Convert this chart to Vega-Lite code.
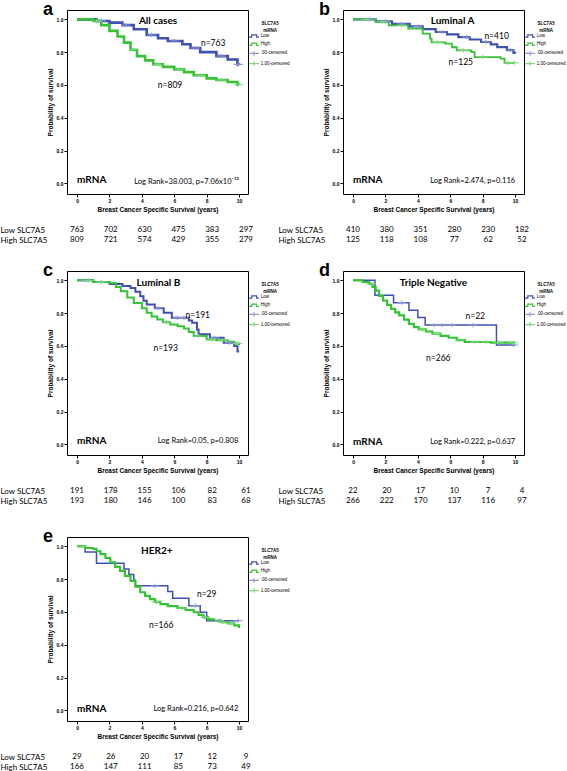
{
"$schema":"https://vega.github.io/schema/vega-lite/v6.json",
"padding":{"left":0,"top":0,"right":0,"bottom":0},
"autosize":{"type":"pad"},
"background":"white",
"config":{
 "view":{"stroke":"#000","strokeWidth":1},
 "axis":{"grid":false,"domain":false,"labelOverlap":false,"labelFlush":false,"tickColor":"#000","tickSize":3,"labelFont":"Liberation Sans","labelFontWeight":"bold","labelFontSize":5,"labelColor":"#000","labelPadding":1,"titleFont":"Liberation Sans","titleFontWeight":"bold","titleFontSize":6.5,"titleColor":"#000"},
 "axisX":{"titlePadding":3},
 "axisY":{"titlePadding":3},
 "legend":{"orient":"none","titleFont":"Liberation Sans","titleFontSize":4.5,"titleFontWeight":"bold","titleAnchor":"middle","titleAlign":"center","titlePadding":1,"labelFont":"Liberation Sans","labelFontSize":4.5,"labelColor":"#000","symbolSize":20,"symbolStrokeWidth":1.2,"rowPadding":0.2,"labelOffset":3.7,"padding":0},
 "title":{"anchor":"start","frame":"group","font":"Liberation Sans","fontSize":18,"fontWeight":"bold","dx":-24,"dy":13,"offset":0,"baseline":"alphabetic","color":"#000"},
 "text":{"font":"Lato","color":"#000"}
},
"datasets":{
"km":[
{"p":"a","g":"Low","t":0,"s":1},{"p":"a","g":"Low","t":0.5,"s":1},{"p":"a","g":"Low","t":1.2,"s":0.99},{"p":"a","g":"Low","t":2,"s":0.98},{"p":"a","g":"Low","t":2.8,"s":0.965},{"p":"a","g":"Low","t":3.5,"s":0.94},{"p":"a","g":"Low","t":4.3,"s":0.905},{"p":"a","g":"Low","t":5,"s":0.885},{"p":"a","g":"Low","t":5.6,"s":0.868},{"p":"a","g":"Low","t":6.5,"s":0.848},{"p":"a","g":"Low","t":7,"s":0.825},{"p":"a","g":"Low","t":7.6,"s":0.8},{"p":"a","g":"Low","t":8.6,"s":0.776},{"p":"a","g":"Low","t":9.3,"s":0.755},{"p":"a","g":"Low","t":9.9,"s":0.725},{"p":"a","g":"Low","t":10,"s":0.72},
{"p":"a","g":"High","t":0,"s":1},{"p":"a","g":"High","t":0.6,"s":1},{"p":"a","g":"High","t":1,"s":0.99},{"p":"a","g":"High","t":1.5,"s":0.965},{"p":"a","g":"High","t":2,"s":0.93},{"p":"a","g":"High","t":2.5,"s":0.895},{"p":"a","g":"High","t":2.9,"s":0.858},{"p":"a","g":"High","t":3.3,"s":0.815},{"p":"a","g":"High","t":3.7,"s":0.776},{"p":"a","g":"High","t":4.2,"s":0.75},{"p":"a","g":"High","t":4.7,"s":0.726},{"p":"a","g":"High","t":5.3,"s":0.71},{"p":"a","g":"High","t":6,"s":0.695},{"p":"a","g":"High","t":6.6,"s":0.678},{"p":"a","g":"High","t":7.2,"s":0.659},{"p":"a","g":"High","t":8,"s":0.64},{"p":"a","g":"High","t":8.6,"s":0.63},{"p":"a","g":"High","t":9.3,"s":0.618},{"p":"a","g":"High","t":9.9,"s":0.602},{"p":"a","g":"High","t":10,"s":0.6},
{"p":"b","g":"Low","t":0,"s":1},{"p":"b","g":"Low","t":1.4,"s":0.988},{"p":"b","g":"Low","t":2.4,"s":0.972},{"p":"b","g":"Low","t":3.5,"s":0.957},{"p":"b","g":"Low","t":4.3,"s":0.94},{"p":"b","g":"Low","t":5.1,"s":0.923},{"p":"b","g":"Low","t":5.8,"s":0.908},{"p":"b","g":"Low","t":6.5,"s":0.892},{"p":"b","g":"Low","t":7.2,"s":0.877},{"p":"b","g":"Low","t":7.9,"s":0.862},{"p":"b","g":"Low","t":8.5,"s":0.848},{"p":"b","g":"Low","t":8.9,"s":0.831},{"p":"b","g":"Low","t":9.5,"s":0.812},{"p":"b","g":"Low","t":9.9,"s":0.795},{"p":"b","g":"Low","t":10,"s":0.792},
{"p":"b","g":"High","t":0,"s":1},{"p":"b","g":"High","t":1.4,"s":0.985},{"p":"b","g":"High","t":2.2,"s":0.963},{"p":"b","g":"High","t":3.4,"s":0.943},{"p":"b","g":"High","t":4.3,"s":0.913},{"p":"b","g":"High","t":4.75,"s":0.882},{"p":"b","g":"High","t":4.85,"s":0.86},{"p":"b","g":"High","t":5.7,"s":0.852},{"p":"b","g":"High","t":6.1,"s":0.83},{"p":"b","g":"High","t":6.4,"s":0.811},{"p":"b","g":"High","t":7.3,"s":0.8},{"p":"b","g":"High","t":7.5,"s":0.77},{"p":"b","g":"High","t":9.1,"s":0.76},{"p":"b","g":"High","t":9.35,"s":0.735},{"p":"b","g":"High","t":10,"s":0.735},
{"p":"c","g":"Low","t":0,"s":1},{"p":"c","g":"Low","t":1,"s":0.99},{"p":"c","g":"Low","t":2,"s":0.978},{"p":"c","g":"Low","t":2.8,"s":0.965},{"p":"c","g":"Low","t":3.3,"s":0.954},{"p":"c","g":"Low","t":3.6,"s":0.93},{"p":"c","g":"Low","t":3.9,"s":0.903},{"p":"c","g":"Low","t":4.1,"s":0.875},{"p":"c","g":"Low","t":4.3,"s":0.853},{"p":"c","g":"Low","t":4.8,"s":0.83},{"p":"c","g":"Low","t":5.35,"s":0.802},{"p":"c","g":"Low","t":5.85,"s":0.772},{"p":"c","g":"Low","t":6.9,"s":0.755},{"p":"c","g":"Low","t":7.1,"s":0.741},{"p":"c","g":"Low","t":7.4,"s":0.7},{"p":"c","g":"Low","t":7.5,"s":0.671},{"p":"c","g":"Low","t":8.2,"s":0.65},{"p":"c","g":"Low","t":9.05,"s":0.62},{"p":"c","g":"Low","t":9.7,"s":0.6},{"p":"c","g":"Low","t":9.9,"s":0.566},{"p":"c","g":"Low","t":10,"s":0.566},
{"p":"c","g":"High","t":0,"s":1},{"p":"c","g":"High","t":1,"s":0.99},{"p":"c","g":"High","t":2,"s":0.984},{"p":"c","g":"High","t":2.4,"s":0.96},{"p":"c","g":"High","t":2.7,"s":0.933},{"p":"c","g":"High","t":3.1,"s":0.895},{"p":"c","g":"High","t":3.5,"s":0.862},{"p":"c","g":"High","t":4,"s":0.83},{"p":"c","g":"High","t":4.3,"s":0.802},{"p":"c","g":"High","t":4.6,"s":0.78},{"p":"c","g":"High","t":4.95,"s":0.762},{"p":"c","g":"High","t":5.3,"s":0.745},{"p":"c","g":"High","t":5.75,"s":0.731},{"p":"c","g":"High","t":6.2,"s":0.72},{"p":"c","g":"High","t":6.6,"s":0.707},{"p":"c","g":"High","t":6.9,"s":0.685},{"p":"c","g":"High","t":7.2,"s":0.66},{"p":"c","g":"High","t":8,"s":0.64},{"p":"c","g":"High","t":8.6,"s":0.635},{"p":"c","g":"High","t":9.3,"s":0.626},{"p":"c","g":"High","t":9.7,"s":0.615},{"p":"c","g":"High","t":10,"s":0.605},
{"p":"d","g":"Low","t":0,"s":1},{"p":"d","g":"Low","t":1.35,"s":0.909},{"p":"d","g":"Low","t":2.5,"s":0.864},{"p":"d","g":"Low","t":3.45,"s":0.818},{"p":"d","g":"Low","t":4,"s":0.773},{"p":"d","g":"Low","t":4.45,"s":0.727},{"p":"d","g":"Low","t":8.85,"s":0.606},{"p":"d","g":"Low","t":10,"s":0.606},
{"p":"d","g":"High","t":0,"s":1},{"p":"d","g":"High","t":0.6,"s":0.99},{"p":"d","g":"High","t":1,"s":0.978},{"p":"d","g":"High","t":1.2,"s":0.96},{"p":"d","g":"High","t":1.4,"s":0.937},{"p":"d","g":"High","t":1.6,"s":0.905},{"p":"d","g":"High","t":1.85,"s":0.877},{"p":"d","g":"High","t":2.1,"s":0.85},{"p":"d","g":"High","t":2.35,"s":0.826},{"p":"d","g":"High","t":2.6,"s":0.805},{"p":"d","g":"High","t":2.85,"s":0.786},{"p":"d","g":"High","t":3.15,"s":0.76},{"p":"d","g":"High","t":3.45,"s":0.735},{"p":"d","g":"High","t":3.75,"s":0.715},{"p":"d","g":"High","t":4.05,"s":0.701},{"p":"d","g":"High","t":4.5,"s":0.688},{"p":"d","g":"High","t":4.9,"s":0.675},{"p":"d","g":"High","t":5.4,"s":0.662},{"p":"d","g":"High","t":5.9,"s":0.65},{"p":"d","g":"High","t":6.4,"s":0.636},{"p":"d","g":"High","t":6.9,"s":0.624},{"p":"d","g":"High","t":8.5,"s":0.62},{"p":"d","g":"High","t":10,"s":0.62},
{"p":"e","g":"Low","t":0,"s":1},{"p":"e","g":"Low","t":0.5,"s":0.966},{"p":"e","g":"Low","t":1.2,"s":0.897},{"p":"e","g":"Low","t":2.9,"s":0.862},{"p":"e","g":"Low","t":3.2,"s":0.828},{"p":"e","g":"Low","t":3.5,"s":0.793},{"p":"e","g":"Low","t":3.6,"s":0.759},{"p":"e","g":"Low","t":5.6,"s":0.724},{"p":"e","g":"Low","t":5.9,"s":0.683},{"p":"e","g":"Low","t":6.9,"s":0.638},{"p":"e","g":"Low","t":7.6,"s":0.598},{"p":"e","g":"Low","t":8,"s":0.547},{"p":"e","g":"Low","t":10,"s":0.547},
{"p":"e","g":"High","t":0,"s":1},{"p":"e","g":"High","t":0.5,"s":0.99},{"p":"e","g":"High","t":1,"s":0.984},{"p":"e","g":"High","t":1.2,"s":0.97},{"p":"e","g":"High","t":1.45,"s":0.953},{"p":"e","g":"High","t":1.75,"s":0.93},{"p":"e","g":"High","t":2.05,"s":0.902},{"p":"e","g":"High","t":2.35,"s":0.875},{"p":"e","g":"High","t":2.65,"s":0.85},{"p":"e","g":"High","t":2.95,"s":0.82},{"p":"e","g":"High","t":3.3,"s":0.79},{"p":"e","g":"High","t":3.6,"s":0.755},{"p":"e","g":"High","t":3.9,"s":0.72},{"p":"e","g":"High","t":4.2,"s":0.698},{"p":"e","g":"High","t":4.5,"s":0.678},{"p":"e","g":"High","t":4.8,"s":0.662},{"p":"e","g":"High","t":5.15,"s":0.648},{"p":"e","g":"High","t":5.6,"s":0.636},{"p":"e","g":"High","t":6.2,"s":0.624},{"p":"e","g":"High","t":6.7,"s":0.612},{"p":"e","g":"High","t":7.2,"s":0.598},{"p":"e","g":"High","t":7.5,"s":0.582},{"p":"e","g":"High","t":7.8,"s":0.567},{"p":"e","g":"High","t":8.1,"s":0.555},{"p":"e","g":"High","t":8.45,"s":0.547},{"p":"e","g":"High","t":8.9,"s":0.538},{"p":"e","g":"High","t":9.3,"s":0.53},{"p":"e","g":"High","t":9.7,"s":0.518},{"p":"e","g":"High","t":10,"s":0.502}
],
"cens":[
{"p":"a","g":".00-censored","t":1.5,"s":0.99},{"p":"a","g":".00-censored","t":3,"s":0.965},{"p":"a","g":".00-censored","t":4.6,"s":0.905},{"p":"a","g":".00-censored","t":6,"s":0.868},{"p":"a","g":".00-censored","t":7.3,"s":0.825},{"p":"a","g":".00-censored","t":8.9,"s":0.776},{"p":"a","g":".00-censored","t":9.95,"s":0.725},
{"p":"a","g":"1.00-censored","t":1.2,"s":0.99},{"p":"a","g":"1.00-censored","t":3.5,"s":0.815},{"p":"a","g":"1.00-censored","t":5,"s":0.726},{"p":"a","g":"1.00-censored","t":6.3,"s":0.695},{"p":"a","g":"1.00-censored","t":7.6,"s":0.659},{"p":"a","g":"1.00-censored","t":8.9,"s":0.63},{"p":"a","g":"1.00-censored","t":9.95,"s":0.602},
{"p":"b","g":".00-censored","t":1,"s":1},{"p":"b","g":".00-censored","t":2,"s":0.988},{"p":"b","g":".00-censored","t":3,"s":0.972},{"p":"b","g":".00-censored","t":4,"s":0.957},{"p":"b","g":".00-censored","t":5.5,"s":0.923},{"p":"b","g":".00-censored","t":7,"s":0.892},{"p":"b","g":".00-censored","t":8.2,"s":0.862},{"p":"b","g":".00-censored","t":9.7,"s":0.812},
{"p":"b","g":"1.00-censored","t":0.8,"s":1},{"p":"b","g":"1.00-censored","t":1.8,"s":0.985},{"p":"b","g":"1.00-censored","t":3,"s":0.963},{"p":"b","g":"1.00-censored","t":5.2,"s":0.86},{"p":"b","g":"1.00-censored","t":6.8,"s":0.811},{"p":"b","g":"1.00-censored","t":8,"s":0.77},{"p":"b","g":"1.00-censored","t":9.6,"s":0.735},{"p":"b","g":"1.00-censored","t":9.95,"s":0.735},
{"p":"c","g":".00-censored","t":0.5,"s":1},{"p":"c","g":".00-censored","t":1.5,"s":0.99},{"p":"c","g":".00-censored","t":5,"s":0.83},{"p":"c","g":".00-censored","t":6.2,"s":0.772},{"p":"c","g":".00-censored","t":6.6,"s":0.772},{"p":"c","g":".00-censored","t":8.5,"s":0.65},{"p":"c","g":".00-censored","t":9.4,"s":0.62},
{"p":"c","g":"1.00-censored","t":0.7,"s":1},{"p":"c","g":"1.00-censored","t":1.5,"s":0.99},{"p":"c","g":"1.00-censored","t":5.5,"s":0.745},{"p":"c","g":"1.00-censored","t":7.5,"s":0.66},{"p":"c","g":"1.00-censored","t":8.3,"s":0.64},{"p":"c","g":"1.00-censored","t":9,"s":0.635},{"p":"c","g":"1.00-censored","t":9.9,"s":0.615},
{"p":"d","g":".00-censored","t":3,"s":0.864},{"p":"d","g":".00-censored","t":5,"s":0.727},{"p":"d","g":".00-censored","t":5.5,"s":0.727},{"p":"d","g":".00-censored","t":6.1,"s":0.727},{"p":"d","g":".00-censored","t":7.4,"s":0.727},{"p":"d","g":".00-censored","t":9.9,"s":0.606},
{"p":"d","g":"1.00-censored","t":1.1,"s":0.978},{"p":"d","g":"1.00-censored","t":4.3,"s":0.701},{"p":"d","g":"1.00-censored","t":5.2,"s":0.675},{"p":"d","g":"1.00-censored","t":6.6,"s":0.636},{"p":"d","g":"1.00-censored","t":7.5,"s":0.624},{"p":"d","g":"1.00-censored","t":8.2,"s":0.624},{"p":"d","g":"1.00-censored","t":9,"s":0.62},{"p":"d","g":"1.00-censored","t":9.9,"s":0.62},
{"p":"e","g":".00-censored","t":4.8,"s":0.759},{"p":"e","g":".00-censored","t":7.3,"s":0.638},{"p":"e","g":".00-censored","t":8.8,"s":0.547},{"p":"e","g":".00-censored","t":9.95,"s":0.547},
{"p":"e","g":"1.00-censored","t":0.3,"s":1},{"p":"e","g":"1.00-censored","t":4.9,"s":0.662},{"p":"e","g":"1.00-censored","t":6.5,"s":0.624},{"p":"e","g":"1.00-censored","t":7.9,"s":0.567},{"p":"e","g":"1.00-censored","t":9,"s":0.538},{"p":"e","g":"1.00-censored","t":9.5,"s":0.53}
],
"ann":[
{"p":"a","k":"title","t":5.0,"s":0.988,"label":"All cases"},{"p":"a","k":"n","t":8.4,"s":0.854,"label":"n=763"},{"p":"a","k":"n","t":5.74,"s":0.6,"label":"n=809"},{"p":"a","k":"mrna","t":0,"s":0.02,"label":"mRNA"},{"p":"a","k":"lr","t":10,"s":0.01,"label":"Log Rank=38.003, p=7.06x10⁻¹⁰"},
{"p":"b","k":"title","t":6.14,"s":0.988,"label":"Luminal A"},{"p":"b","k":"n","t":8.86,"s":0.896,"label":"n=410"},{"p":"b","k":"n","t":6.65,"s":0.74,"label":"n=125"},{"p":"b","k":"mrna","t":0,"s":0.02,"label":"mRNA"},{"p":"b","k":"lr","t":10,"s":0.016,"label":"Log Rank=2.474, p=0.116"},
{"p":"c","k":"title","t":5.02,"s":0.986,"label":"Luminal B"},{"p":"c","k":"n","t":7.45,"s":0.79,"label":"n=191"},{"p":"c","k":"n","t":5.47,"s":0.59,"label":"n=193"},{"p":"c","k":"mrna","t":0,"s":0.02,"label":"mRNA"},{"p":"c","k":"lr","t":9.95,"s":0.02,"label":"Log Rank=0.05, p=0.808"},
{"p":"d","k":"title","t":4.96,"s":0.982,"label":"Triple Negative"},{"p":"d","k":"n","t":7.54,"s":0.784,"label":"n=22"},{"p":"d","k":"n","t":5.26,"s":0.527,"label":"n=266"},{"p":"d","k":"mrna","t":0,"s":0.015,"label":"mRNA"},{"p":"d","k":"lr","t":10,"s":0.015,"label":"Log Rank=0.222, p=0.637"},
{"p":"e","k":"title","t":4.92,"s":0.974,"label":"HER2+"},{"p":"e","k":"n","t":8.0,"s":0.707,"label":"n=29"},{"p":"e","k":"n","t":5.19,"s":0.52,"label":"n=166"},{"p":"e","k":"mrna","t":0,"s":0.008,"label":"mRNA"},{"p":"e","k":"lr","t":9.95,"s":0.008,"label":"Log Rank=0.216, p=0.642"}
],
"risk":[
{"p":"a","row":"Low SLC7A5","t":0,"n":763},{"p":"a","row":"Low SLC7A5","t":2,"n":702},{"p":"a","row":"Low SLC7A5","t":4,"n":630},{"p":"a","row":"Low SLC7A5","t":6,"n":475},{"p":"a","row":"Low SLC7A5","t":8,"n":383},{"p":"a","row":"Low SLC7A5","t":10,"n":297},
{"p":"a","row":"High SLC7A5","t":0,"n":809},{"p":"a","row":"High SLC7A5","t":2,"n":721},{"p":"a","row":"High SLC7A5","t":4,"n":574},{"p":"a","row":"High SLC7A5","t":6,"n":429},{"p":"a","row":"High SLC7A5","t":8,"n":355},{"p":"a","row":"High SLC7A5","t":10,"n":279},
{"p":"b","row":"Low SLC7A5","t":0,"n":410},{"p":"b","row":"Low SLC7A5","t":2,"n":380},{"p":"b","row":"Low SLC7A5","t":4,"n":351},{"p":"b","row":"Low SLC7A5","t":6,"n":280},{"p":"b","row":"Low SLC7A5","t":8,"n":230},{"p":"b","row":"Low SLC7A5","t":10,"n":182},
{"p":"b","row":"High SLC7A5","t":0,"n":125},{"p":"b","row":"High SLC7A5","t":2,"n":118},{"p":"b","row":"High SLC7A5","t":4,"n":108},{"p":"b","row":"High SLC7A5","t":6,"n":77},{"p":"b","row":"High SLC7A5","t":8,"n":62},{"p":"b","row":"High SLC7A5","t":10,"n":52},
{"p":"c","row":"Low SLC7A5","t":0,"n":191},{"p":"c","row":"Low SLC7A5","t":2,"n":178},{"p":"c","row":"Low SLC7A5","t":4,"n":155},{"p":"c","row":"Low SLC7A5","t":6,"n":106},{"p":"c","row":"Low SLC7A5","t":8,"n":82},{"p":"c","row":"Low SLC7A5","t":10,"n":61},
{"p":"c","row":"High SLC7A5","t":0,"n":193},{"p":"c","row":"High SLC7A5","t":2,"n":180},{"p":"c","row":"High SLC7A5","t":4,"n":146},{"p":"c","row":"High SLC7A5","t":6,"n":100},{"p":"c","row":"High SLC7A5","t":8,"n":83},{"p":"c","row":"High SLC7A5","t":10,"n":68},
{"p":"d","row":"Low SLC7A5","t":0,"n":22},{"p":"d","row":"Low SLC7A5","t":2,"n":20},{"p":"d","row":"Low SLC7A5","t":4,"n":17},{"p":"d","row":"Low SLC7A5","t":6,"n":10},{"p":"d","row":"Low SLC7A5","t":8,"n":7},{"p":"d","row":"Low SLC7A5","t":10,"n":4},
{"p":"d","row":"High SLC7A5","t":0,"n":266},{"p":"d","row":"High SLC7A5","t":2,"n":222},{"p":"d","row":"High SLC7A5","t":4,"n":170},{"p":"d","row":"High SLC7A5","t":6,"n":137},{"p":"d","row":"High SLC7A5","t":8,"n":116},{"p":"d","row":"High SLC7A5","t":10,"n":97},
{"p":"e","row":"Low SLC7A5","t":0,"n":29},{"p":"e","row":"Low SLC7A5","t":2,"n":26},{"p":"e","row":"Low SLC7A5","t":4,"n":20},{"p":"e","row":"Low SLC7A5","t":6,"n":17},{"p":"e","row":"Low SLC7A5","t":8,"n":12},{"p":"e","row":"Low SLC7A5","t":10,"n":9},
{"p":"e","row":"High SLC7A5","t":0,"n":166},{"p":"e","row":"High SLC7A5","t":2,"n":147},{"p":"e","row":"High SLC7A5","t":4,"n":111},{"p":"e","row":"High SLC7A5","t":6,"n":85},{"p":"e","row":"High SLC7A5","t":8,"n":73},{"p":"e","row":"High SLC7A5","t":10,"n":49}
]
},
"columns":2,
"spacing":{"row":12,"column":-13},
"align":"each",
"resolve":{"scale":{"color":"independent","shape":"independent","strokeWidth":"independent"},"legend":{"color":"independent","shape":"independent","strokeWidth":"independent"}},
"concat":[
{"width":181,"height":184,"title":{"text":"a"},"layer":[
 {"data":{"name":"km"},"transform":[{"filter":"datum.p=='a'"}],"mark":{"type":"line","interpolate":"step-after"},
  "encoding":{"x":{"field":"t","type":"quantitative","scale":{"domain":[-0.62,10.55],"nice":false,"zero":false},"axis":{"values":[0,2,4,6,8,10],"tickCount":12,"labelOverlap":false,"title":"Breast Cancer Specific Survival (years)"}},
   "y":{"field":"s","type":"quantitative","scale":{"domain":[-0.065,1.057],"nice":false,"zero":false},"axis":{"values":[0,0.2,0.4,0.6,0.8,1],"tickCount":12,"labelOverlap":false,"format":".1f","title":"Probability of survival"}},
   "color":{"field":"g","type":"nominal","scale":{"domain":["Low","High",".00-censored","1.00-censored"],"range":["#3F50B0","#35C235","#8D99D4","#7DD87D"]},"legend":{"title":["SLC7A5","mRNA"],"legendX":184,"legendY":11}},
   "strokeWidth":{"field":"g","type":"nominal","scale":{"domain":["Low","High"],"range":[2.6,2.6]},"legend":null}}},
 {"data":{"name":"cens"},"transform":[{"filter":"datum.p=='a'"}],"mark":{"type":"point","size":18,"strokeWidth":1,"filled":false,"opacity":1},
  "encoding":{"x":{"field":"t","type":"quantitative"},"y":{"field":"s","type":"quantitative"},
   "color":{"field":"g","type":"nominal","scale":{"domain":["Low","High",".00-censored","1.00-censored"],"range":["#3F50B0","#35C235","#8D99D4","#7DD87D"]},"legend":{"title":["SLC7A5","mRNA"],"legendX":184,"legendY":11}},
   "shape":{"field":"g","type":"nominal","scale":{"domain":["Low","High",".00-censored","1.00-censored"],"range":["M-2.2,0.5H-1V-0.5H1.2V0.5H2.2","M-2.2,0.5H-1V-0.5H1.2V0.5H2.2","M-2.2,0H2.2M0,-1V1","M-2.2,0H2.2M0,-1V1"]},"legend":{"title":["SLC7A5","mRNA"],"legendX":184,"legendY":11}}}},
 {"data":{"name":"ann"},"transform":[{"filter":"datum.p=='a' && datum.k=='title'"}],"mark":{"type":"text","fontSize":10,"fontWeight":"bold","align":"center","baseline":"middle"},"encoding":{"x":{"field":"t","type":"quantitative"},"y":{"field":"s","type":"quantitative"},"text":{"field":"label"}}},
 {"data":{"name":"ann"},"transform":[{"filter":"datum.p=='a' && datum.k=='n'"}],"mark":{"type":"text","fontSize":8.5,"align":"center","baseline":"middle"},"encoding":{"x":{"field":"t","type":"quantitative"},"y":{"field":"s","type":"quantitative"},"text":{"field":"label"}}},
 {"data":{"name":"ann"},"transform":[{"filter":"datum.p=='a' && datum.k=='mrna'"}],"mark":{"type":"text","fontSize":10,"fontWeight":"bold","align":"left","baseline":"middle"},"encoding":{"x":{"field":"t","type":"quantitative"},"y":{"field":"s","type":"quantitative"},"text":{"field":"label"}}},
 {"data":{"name":"ann"},"transform":[{"filter":"datum.p=='a' && datum.k=='lr'"}],"mark":{"type":"text","fontSize":7.5,"align":"right","baseline":"middle"},"encoding":{"x":{"field":"t","type":"quantitative"},"y":{"field":"s","type":"quantitative"},"text":{"field":"label"}}}
]},
{"width":181,"height":184,"title":{"text":"b"},"layer":[
 {"data":{"name":"km"},"transform":[{"filter":"datum.p=='b'"}],"mark":{"type":"line","interpolate":"step-after"},
  "encoding":{"x":{"field":"t","type":"quantitative","scale":{"domain":[-0.62,10.55],"nice":false,"zero":false},"axis":{"values":[0,2,4,6,8,10],"tickCount":12,"labelOverlap":false,"title":"Breast Cancer Specific Survival (years)"}},
   "y":{"field":"s","type":"quantitative","scale":{"domain":[-0.065,1.057],"nice":false,"zero":false},"axis":{"values":[0,0.2,0.4,0.6,0.8,1],"tickCount":12,"labelOverlap":false,"format":".1f","title":"Probability of survival"}},
   "color":{"field":"g","type":"nominal","scale":{"domain":["Low","High",".00-censored","1.00-censored"],"range":["#3F50B0","#35C235","#8D99D4","#7DD87D"]},"legend":{"title":["SLC7A5","mRNA"],"legendX":184,"legendY":11}},
   "strokeWidth":{"field":"g","type":"nominal","scale":{"domain":["Low","High"],"range":[2.2,1.8]},"legend":null}}},
 {"data":{"name":"cens"},"transform":[{"filter":"datum.p=='b'"}],"mark":{"type":"point","size":18,"strokeWidth":1,"filled":false,"opacity":1},
  "encoding":{"x":{"field":"t","type":"quantitative"},"y":{"field":"s","type":"quantitative"},
   "color":{"field":"g","type":"nominal","scale":{"domain":["Low","High",".00-censored","1.00-censored"],"range":["#3F50B0","#35C235","#8D99D4","#7DD87D"]},"legend":{"title":["SLC7A5","mRNA"],"legendX":184,"legendY":11}},
   "shape":{"field":"g","type":"nominal","scale":{"domain":["Low","High",".00-censored","1.00-censored"],"range":["M-2.2,0.5H-1V-0.5H1.2V0.5H2.2","M-2.2,0.5H-1V-0.5H1.2V0.5H2.2","M-2.2,0H2.2M0,-1V1","M-2.2,0H2.2M0,-1V1"]},"legend":{"title":["SLC7A5","mRNA"],"legendX":184,"legendY":11}}}},
 {"data":{"name":"ann"},"transform":[{"filter":"datum.p=='b' && datum.k=='title'"}],"mark":{"type":"text","fontSize":10,"fontWeight":"bold","align":"center","baseline":"middle"},"encoding":{"x":{"field":"t","type":"quantitative"},"y":{"field":"s","type":"quantitative"},"text":{"field":"label"}}},
 {"data":{"name":"ann"},"transform":[{"filter":"datum.p=='b' && datum.k=='n'"}],"mark":{"type":"text","fontSize":8.5,"align":"center","baseline":"middle"},"encoding":{"x":{"field":"t","type":"quantitative"},"y":{"field":"s","type":"quantitative"},"text":{"field":"label"}}},
 {"data":{"name":"ann"},"transform":[{"filter":"datum.p=='b' && datum.k=='mrna'"}],"mark":{"type":"text","fontSize":10,"fontWeight":"bold","align":"left","baseline":"middle"},"encoding":{"x":{"field":"t","type":"quantitative"},"y":{"field":"s","type":"quantitative"},"text":{"field":"label"}}},
 {"data":{"name":"ann"},"transform":[{"filter":"datum.p=='b' && datum.k=='lr'"}],"mark":{"type":"text","fontSize":7.5,"align":"right","baseline":"middle"},"encoding":{"x":{"field":"t","type":"quantitative"},"y":{"field":"s","type":"quantitative"},"text":{"field":"label"}}}
]},
{"width":181,"height":24,"view":{"stroke":null},"data":{"name":"risk"},"transform":[{"filter":"datum.p=='a'"}],"mark":{"type":"text","fontSize":8},
 "encoding":{"x":{"field":"t","type":"quantitative","scale":{"domain":[-0.59,10.12],"nice":false,"zero":false},"axis":null},
  "y":{"field":"row","type":"nominal","sort":["Low SLC7A5","High SLC7A5"],"scale":{"type":"point","padding":0,"range":[5,15]},"axis":{"title":null,"domain":false,"ticks":false,"tickSize":0,"labelAlign":"left","labelPadding":67,"labelFont":"Lato","labelFontWeight":"normal","labelFontSize":8}},
  "text":{"field":"n","type":"quantitative"}}},
{"width":181,"height":24,"view":{"stroke":null},"data":{"name":"risk"},"transform":[{"filter":"datum.p=='b'"}],"mark":{"type":"text","fontSize":8},
 "encoding":{"x":{"field":"t","type":"quantitative","scale":{"domain":[-0.59,10.12],"nice":false,"zero":false},"axis":null},
  "y":{"field":"row","type":"nominal","sort":["Low SLC7A5","High SLC7A5"],"scale":{"type":"point","padding":0,"range":[5,15]},"axis":{"title":null,"domain":false,"ticks":false,"tickSize":0,"labelAlign":"left","labelPadding":65,"labelFont":"Lato","labelFontWeight":"normal","labelFontSize":8}},
  "text":{"field":"n","type":"quantitative"}}},
{"width":181,"height":184,"title":{"text":"c"},"layer":[
 {"data":{"name":"km"},"transform":[{"filter":"datum.p=='c'"}],"mark":{"type":"line","interpolate":"step-after"},
  "encoding":{"x":{"field":"t","type":"quantitative","scale":{"domain":[-0.62,10.55],"nice":false,"zero":false},"axis":{"values":[0,2,4,6,8,10],"tickCount":12,"labelOverlap":false,"title":"Breast Cancer Specific Survival (years)"}},
   "y":{"field":"s","type":"quantitative","scale":{"domain":[-0.065,1.057],"nice":false,"zero":false},"axis":{"values":[0,0.2,0.4,0.6,0.8,1],"tickCount":12,"labelOverlap":false,"format":".1f","title":"Probability of survival"}},
   "color":{"field":"g","type":"nominal","scale":{"domain":["Low","High",".00-censored","1.00-censored"],"range":["#3F50B0","#35C235","#8D99D4","#7DD87D"]},"legend":{"title":["SLC7A5","mRNA"],"legendX":184,"legendY":11}},
   "strokeWidth":{"field":"g","type":"nominal","scale":{"domain":["Low","High"],"range":[2,2]},"legend":null}}},
 {"data":{"name":"cens"},"transform":[{"filter":"datum.p=='c'"}],"mark":{"type":"point","size":18,"strokeWidth":1,"filled":false,"opacity":1},
  "encoding":{"x":{"field":"t","type":"quantitative"},"y":{"field":"s","type":"quantitative"},
   "color":{"field":"g","type":"nominal","scale":{"domain":["Low","High",".00-censored","1.00-censored"],"range":["#3F50B0","#35C235","#8D99D4","#7DD87D"]},"legend":{"title":["SLC7A5","mRNA"],"legendX":184,"legendY":11}},
   "shape":{"field":"g","type":"nominal","scale":{"domain":["Low","High",".00-censored","1.00-censored"],"range":["M-2.2,0.5H-1V-0.5H1.2V0.5H2.2","M-2.2,0.5H-1V-0.5H1.2V0.5H2.2","M-2.2,0H2.2M0,-1V1","M-2.2,0H2.2M0,-1V1"]},"legend":{"title":["SLC7A5","mRNA"],"legendX":184,"legendY":11}}}},
 {"data":{"name":"ann"},"transform":[{"filter":"datum.p=='c' && datum.k=='title'"}],"mark":{"type":"text","fontSize":10,"fontWeight":"bold","align":"center","baseline":"middle"},"encoding":{"x":{"field":"t","type":"quantitative"},"y":{"field":"s","type":"quantitative"},"text":{"field":"label"}}},
 {"data":{"name":"ann"},"transform":[{"filter":"datum.p=='c' && datum.k=='n'"}],"mark":{"type":"text","fontSize":8.5,"align":"center","baseline":"middle"},"encoding":{"x":{"field":"t","type":"quantitative"},"y":{"field":"s","type":"quantitative"},"text":{"field":"label"}}},
 {"data":{"name":"ann"},"transform":[{"filter":"datum.p=='c' && datum.k=='mrna'"}],"mark":{"type":"text","fontSize":10,"fontWeight":"bold","align":"left","baseline":"middle"},"encoding":{"x":{"field":"t","type":"quantitative"},"y":{"field":"s","type":"quantitative"},"text":{"field":"label"}}},
 {"data":{"name":"ann"},"transform":[{"filter":"datum.p=='c' && datum.k=='lr'"}],"mark":{"type":"text","fontSize":7.5,"align":"right","baseline":"middle"},"encoding":{"x":{"field":"t","type":"quantitative"},"y":{"field":"s","type":"quantitative"},"text":{"field":"label"}}}
]},
{"width":181,"height":184,"title":{"text":"d"},"layer":[
 {"data":{"name":"km"},"transform":[{"filter":"datum.p=='d'"}],"mark":{"type":"line","interpolate":"step-after"},
  "encoding":{"x":{"field":"t","type":"quantitative","scale":{"domain":[-0.62,10.55],"nice":false,"zero":false},"axis":{"values":[0,2,4,6,8,10],"tickCount":12,"labelOverlap":false,"title":"Breast Cancer Specific Survival (years)"}},
   "y":{"field":"s","type":"quantitative","scale":{"domain":[-0.065,1.057],"nice":false,"zero":false},"axis":{"values":[0,0.2,0.4,0.6,0.8,1],"tickCount":12,"labelOverlap":false,"format":".1f","title":"Probability of survival"}},
   "color":{"field":"g","type":"nominal","scale":{"domain":["Low","High",".00-censored","1.00-censored"],"range":["#3F50B0","#35C235","#8D99D4","#7DD87D"]},"legend":{"title":["SLC7A5","mRNA"],"legendX":184,"legendY":11}},
   "strokeWidth":{"field":"g","type":"nominal","scale":{"domain":["Low","High"],"range":[1.5,2.2]},"legend":null}}},
 {"data":{"name":"cens"},"transform":[{"filter":"datum.p=='d'"}],"mark":{"type":"point","size":18,"strokeWidth":1,"filled":false,"opacity":1},
  "encoding":{"x":{"field":"t","type":"quantitative"},"y":{"field":"s","type":"quantitative"},
   "color":{"field":"g","type":"nominal","scale":{"domain":["Low","High",".00-censored","1.00-censored"],"range":["#3F50B0","#35C235","#8D99D4","#7DD87D"]},"legend":{"title":["SLC7A5","mRNA"],"legendX":184,"legendY":11}},
   "shape":{"field":"g","type":"nominal","scale":{"domain":["Low","High",".00-censored","1.00-censored"],"range":["M-2.2,0.5H-1V-0.5H1.2V0.5H2.2","M-2.2,0.5H-1V-0.5H1.2V0.5H2.2","M-2.2,0H2.2M0,-1V1","M-2.2,0H2.2M0,-1V1"]},"legend":{"title":["SLC7A5","mRNA"],"legendX":184,"legendY":11}}}},
 {"data":{"name":"ann"},"transform":[{"filter":"datum.p=='d' && datum.k=='title'"}],"mark":{"type":"text","fontSize":10,"fontWeight":"bold","align":"center","baseline":"middle"},"encoding":{"x":{"field":"t","type":"quantitative"},"y":{"field":"s","type":"quantitative"},"text":{"field":"label"}}},
 {"data":{"name":"ann"},"transform":[{"filter":"datum.p=='d' && datum.k=='n'"}],"mark":{"type":"text","fontSize":8.5,"align":"center","baseline":"middle"},"encoding":{"x":{"field":"t","type":"quantitative"},"y":{"field":"s","type":"quantitative"},"text":{"field":"label"}}},
 {"data":{"name":"ann"},"transform":[{"filter":"datum.p=='d' && datum.k=='mrna'"}],"mark":{"type":"text","fontSize":10,"fontWeight":"bold","align":"left","baseline":"middle"},"encoding":{"x":{"field":"t","type":"quantitative"},"y":{"field":"s","type":"quantitative"},"text":{"field":"label"}}},
 {"data":{"name":"ann"},"transform":[{"filter":"datum.p=='d' && datum.k=='lr'"}],"mark":{"type":"text","fontSize":7.5,"align":"right","baseline":"middle"},"encoding":{"x":{"field":"t","type":"quantitative"},"y":{"field":"s","type":"quantitative"},"text":{"field":"label"}}}
]},
{"width":181,"height":29,"view":{"stroke":null},"data":{"name":"risk"},"transform":[{"filter":"datum.p=='c'"}],"mark":{"type":"text","fontSize":8},
 "encoding":{"x":{"field":"t","type":"quantitative","scale":{"domain":[-0.59,10.12],"nice":false,"zero":false},"axis":null},
  "y":{"field":"row","type":"nominal","sort":["Low SLC7A5","High SLC7A5"],"scale":{"type":"point","padding":0,"range":[5,15]},"axis":{"title":null,"domain":false,"ticks":false,"tickSize":0,"labelAlign":"left","labelPadding":67,"labelFont":"Lato","labelFontWeight":"normal","labelFontSize":8}},
  "text":{"field":"n","type":"quantitative"}}},
{"width":181,"height":29,"view":{"stroke":null},"data":{"name":"risk"},"transform":[{"filter":"datum.p=='d'"}],"mark":{"type":"text","fontSize":8},
 "encoding":{"x":{"field":"t","type":"quantitative","scale":{"domain":[-0.59,10.12],"nice":false,"zero":false},"axis":null},
  "y":{"field":"row","type":"nominal","sort":["Low SLC7A5","High SLC7A5"],"scale":{"type":"point","padding":0,"range":[5,15]},"axis":{"title":null,"domain":false,"ticks":false,"tickSize":0,"labelAlign":"left","labelPadding":65,"labelFont":"Lato","labelFontWeight":"normal","labelFontSize":8}},
  "text":{"field":"n","type":"quantitative"}}},
{"width":181,"height":184,"title":{"text":"e"},"layer":[
 {"data":{"name":"km"},"transform":[{"filter":"datum.p=='e'"}],"mark":{"type":"line","interpolate":"step-after"},
  "encoding":{"x":{"field":"t","type":"quantitative","scale":{"domain":[-0.62,10.55],"nice":false,"zero":false},"axis":{"values":[0,2,4,6,8,10],"tickCount":12,"labelOverlap":false,"title":"Breast Cancer Specific Survival (years)"}},
   "y":{"field":"s","type":"quantitative","scale":{"domain":[-0.065,1.057],"nice":false,"zero":false},"axis":{"values":[0,0.2,0.4,0.6,0.8,1],"tickCount":12,"labelOverlap":false,"format":".1f","title":"Probability of survival"}},
   "color":{"field":"g","type":"nominal","scale":{"domain":["Low","High",".00-censored","1.00-censored"],"range":["#3F50B0","#35C235","#8D99D4","#7DD87D"]},"legend":{"title":["SLC7A5","mRNA"],"legendX":184,"legendY":11}},
   "strokeWidth":{"field":"g","type":"nominal","scale":{"domain":["Low","High"],"range":[1.5,2.2]},"legend":null}}},
 {"data":{"name":"cens"},"transform":[{"filter":"datum.p=='e'"}],"mark":{"type":"point","size":18,"strokeWidth":1,"filled":false,"opacity":1},
  "encoding":{"x":{"field":"t","type":"quantitative"},"y":{"field":"s","type":"quantitative"},
   "color":{"field":"g","type":"nominal","scale":{"domain":["Low","High",".00-censored","1.00-censored"],"range":["#3F50B0","#35C235","#8D99D4","#7DD87D"]},"legend":{"title":["SLC7A5","mRNA"],"legendX":184,"legendY":11}},
   "shape":{"field":"g","type":"nominal","scale":{"domain":["Low","High",".00-censored","1.00-censored"],"range":["M-2.2,0.5H-1V-0.5H1.2V0.5H2.2","M-2.2,0.5H-1V-0.5H1.2V0.5H2.2","M-2.2,0H2.2M0,-1V1","M-2.2,0H2.2M0,-1V1"]},"legend":{"title":["SLC7A5","mRNA"],"legendX":184,"legendY":11}}}},
 {"data":{"name":"ann"},"transform":[{"filter":"datum.p=='e' && datum.k=='title'"}],"mark":{"type":"text","fontSize":10,"fontWeight":"bold","align":"center","baseline":"middle"},"encoding":{"x":{"field":"t","type":"quantitative"},"y":{"field":"s","type":"quantitative"},"text":{"field":"label"}}},
 {"data":{"name":"ann"},"transform":[{"filter":"datum.p=='e' && datum.k=='n'"}],"mark":{"type":"text","fontSize":8.5,"align":"center","baseline":"middle"},"encoding":{"x":{"field":"t","type":"quantitative"},"y":{"field":"s","type":"quantitative"},"text":{"field":"label"}}},
 {"data":{"name":"ann"},"transform":[{"filter":"datum.p=='e' && datum.k=='mrna'"}],"mark":{"type":"text","fontSize":10,"fontWeight":"bold","align":"left","baseline":"middle"},"encoding":{"x":{"field":"t","type":"quantitative"},"y":{"field":"s","type":"quantitative"},"text":{"field":"label"}}},
 {"data":{"name":"ann"},"transform":[{"filter":"datum.p=='e' && datum.k=='lr'"}],"mark":{"type":"text","fontSize":7.5,"align":"right","baseline":"middle"},"encoding":{"x":{"field":"t","type":"quantitative"},"y":{"field":"s","type":"quantitative"},"text":{"field":"label"}}}
]},
{"width":1,"height":1,"view":{"stroke":null},"data":{"values":[{"z":0}]},"mark":{"type":"point","opacity":0},"encoding":{}},
{"width":181,"height":20,"view":{"stroke":null},"data":{"name":"risk"},"transform":[{"filter":"datum.p=='e'"}],"mark":{"type":"text","fontSize":8},
 "encoding":{"x":{"field":"t","type":"quantitative","scale":{"domain":[-0.59,10.12],"nice":false,"zero":false},"axis":null},
  "y":{"field":"row","type":"nominal","sort":["Low SLC7A5","High SLC7A5"],"scale":{"type":"point","padding":0,"range":[5,15]},"axis":{"title":null,"domain":false,"ticks":false,"tickSize":0,"labelAlign":"left","labelPadding":67,"labelFont":"Lato","labelFontWeight":"normal","labelFontSize":8}},
  "text":{"field":"n","type":"quantitative"}}}
]
}
